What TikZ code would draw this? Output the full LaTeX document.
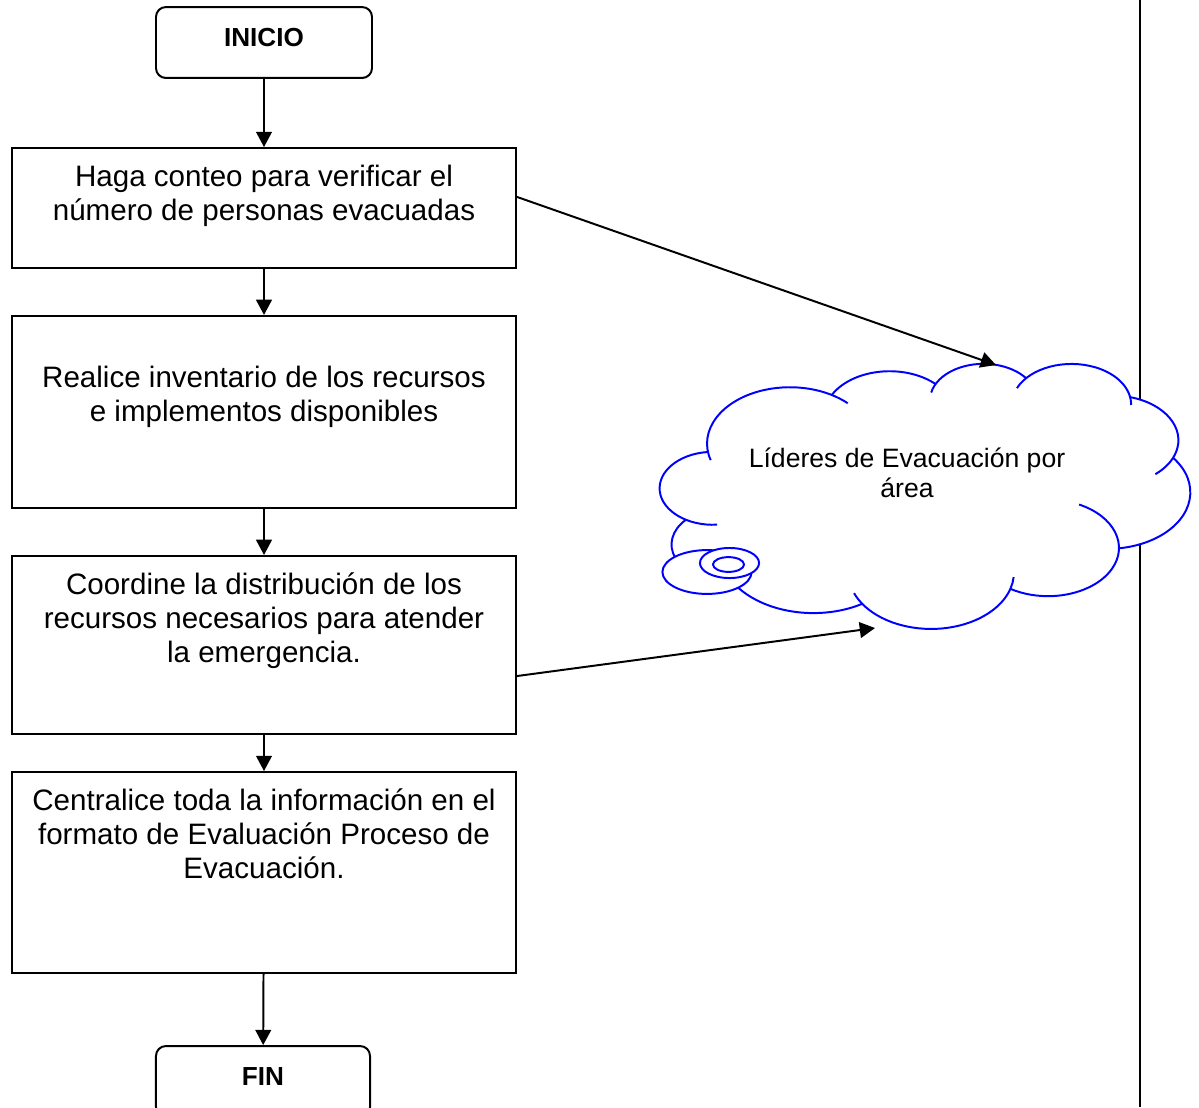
\documentclass[tikz,border=0pt]{standalone}
\usepackage{fontspec}
\setmainfont{Liberation Sans}
\usetikzlibrary{arrows.meta,positioning}
% arco de la nube: centro, radios (px), angulos
\newcommand{\cloudarc}[6]{\draw[cloudline] ({#1+#3*cos(#5)},{#2+#4*sin(#5)}) arc[start angle={-(#5)}, end angle={-(#6)}, x radius={#3*0.406pt}, y radius={#4*0.406pt}];}

\begin{document}
\begin{tikzpicture}
        [
        x=0.406pt, y=-0.406pt,
        terminal/.style={rectangle,rounded corners=4pt,draw,line width=0.8pt,minimum width=87.7pt,minimum height=28.8pt,font=\fontsize{10.6}{12}\selectfont\bfseries,text depth=4pt},
        stepbox/.style={rectangle,draw,line width=0.8pt,minimum width=204.6pt,inner sep=0pt},
        steptext/.style={align=center,inner sep=0pt,font=\fontsize{12}{13.8}\selectfont},
        edge/.style={-{Triangle[length=6.2pt,width=6.4pt]},line width=0.8pt},
        cloudline/.style={blue,line width=0.8pt}
        ]
    \useasboundingbox (0,0) rectangle (1199,1107);
    % carril derecho
    \draw[line width=0.8pt] (1140,0) -- (1140,1107);

    \node[terminal] (inicio) at (264,42.5) {INICIO};
    \node[stepbox,minimum height=48.7pt] (conteo) at (264,208) {};
    \node[steptext,below=7.3pt of conteo.north] (conteotxt) {Haga conteo para verificar el\\número de personas evacuadas};
    \node[stepbox,minimum height=78pt] (inventario) at (264,412) {};
    \node[steptext,below=20.7pt of inventario.north] (inventariotxt) {Realice inventario de los recursos\\e implementos disponibles};
    \node[stepbox,minimum height=72.3pt] (recursos) at (264,645) {};
    \node[steptext,below=6.9pt of recursos.north] (recursostxt) {Coordine la distribución de los\\recursos necesarios para atender\\la emergencia.};
    \node[stepbox,minimum height=81.6pt] (centralice) at (264,872.5) {};
    \node[steptext,below=6.9pt of centralice.north] (centralicetxt) {Centralice toda la información en el\\formato de Evaluación Proceso de\\Evacuación.};
    \node[terminal,minimum width=86.9pt] (fin) at (263,1081.5) {FIN};

    % nube
    \fill[white] (707.85,451.15)
        arc[start angle=-172.255, end angle=-300.36, x radius=33.64pt, y radius=22.89pt]
        arc[start angle=-207.97, end angle=-314.58, x radius=26.56pt, y radius=18.10pt]
        arc[start angle=-206.50, end angle=-322.65, x radius=21.74pt, y radius=14.81pt]
        arc[start angle=-220.28, end angle=-349.79, x radius=24.19pt, y radius=16.43pt]
        arc[start angle=74.77, end angle=-23.21, x radius=26.56pt, y radius=18.12pt]
        arc[start angle=37.53, end angle=-81.86, x radius=33.75pt, y radius=22.96pt]
        arc[start angle=-0.46, end angle=-121.98, x radius=28.82pt, y radius=19.59pt]
        arc[start angle=-16.85, end angle=-146.22, x radius=33.63pt, y radius=22.95pt]
        arc[start angle=-58.98, end angle=-150.19, x radius=38.46pt, y radius=26.26pt]
        arc[start angle=-83.31, end angle=-223.10, x radius=21.72pt, y radius=14.74pt]
        arc[start angle=-120.36, end angle=-264.11, x radius=21.64pt, y radius=14.81pt]
        -- cycle;
    \cloudarc{789.9}{443.6}{82.85}{56.37}{163}{314.27}
    \cloudarc{889.6}{415.8}{65.43}{44.58}{207.97}{314.58}
    \cloudarc{983.5}{400.3}{53.55}{36.47}{192.27}{322.65}
    \cloudarc{1071.5}{404.4}{59.59}{40.46}{203.71}{360.82}
    \cloudarc{1112.96}{440.2}{65.43}{44.62}{-74.77}{49.65}
    \cloudarc{1107.2}{492.3}{83.12}{56.56}{-37.53}{81.86}
    \cloudarc{1047.98}{547.9}{70.98}{48.26}{-64.03}{121.98}
    \cloudarc{931.1}{572.4}{82.84}{56.53}{4.74}{158.47}
    \cloudarc{813.4}{548.4}{94.72}{64.67}{58.98}{150.19}
    \cloudarc{725.0}{544.5}{53.49}{36.30}{68.23}{223.10}
    \cloudarc{712.9}{488.3}{53.31}{36.47}{85.55}{264.11}
    \filldraw[cloudline,fill=white] (707,572) ellipse [x radius=18.1pt, y radius=8.9pt];
    \filldraw[cloudline,fill=white] (729.5,563) ellipse [x radius=12pt, y radius=6.1pt];
    \draw[cloudline] (728.5,564.5) ellipse [x radius=6.3pt, y radius=3pt];
    \node[font=\fontsize{10.8}{12.2}\selectfont,align=center] (lideres) at (907,473) {Líderes de Evacuación por\\área};

    \coordinate (llegada1) at (996,365);
    \coordinate (llegada2) at (875,628);

    \draw[edge] (inicio) -- (conteo);
    \draw[edge] (conteo) -- (inventario);
    \draw[edge] (inventario) -- (recursos);
    \draw[edge] (recursos) -- (centralice);
    \draw[edge] (centralice) -- (fin);
    \draw[edge] ([yshift=4.5pt]conteo.east) -- (llegada1);
    \draw[edge] ([yshift=-12.6pt]recursos.east) -- (llegada2);
\end{tikzpicture}
\end{document}
